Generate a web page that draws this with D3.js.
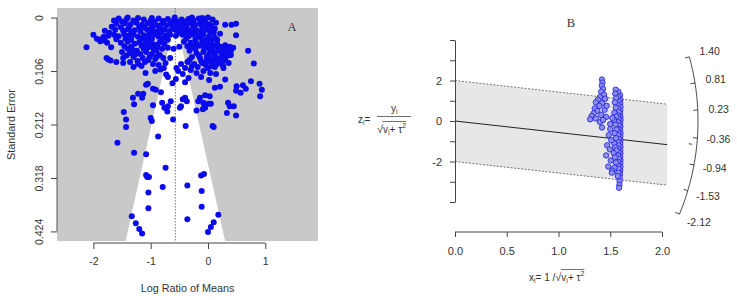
<!DOCTYPE html>
<html><head><meta charset="utf-8">
<script src="https://cdn.jsdelivr.net/npm/d3@7"></script>
<style>body{margin:0;background:#fff} svg{display:block} text{font-family:Arial,"Liberation Sans",sans-serif;fill:#333}</style>
</head><body><svg id="c" width="737" height="300"></svg>
<script>
// ---------- data ----------
const pooledEstimate = -0.57;
const seTicks = [0, 0.106, 0.212, 0.318, 0.424];
const seTickLabels = ["0", "0.106", "0.212", "0.318", "0.424"];
const lrmTicks = [-2, -1, 0, 1];
const lrmTickLabels = ["-2", "-1", "0", "1"];
// Panel A: [log ratio of means, standard error]
const pointsA = [
[-1.56,0.002],[-1.42,0.003],[-1.22,0.001],[-1.12,0.004],[-0.86,0.002],[-0.70,0.003],[-0.46,0.004],[-0.34,0.003],[-0.16,0.002],[0.00,0.000],
[-1.30,0.006],[-1.00,0.006],[-0.60,0.006],[-0.25,0.006],[-0.08,0.005],[-1.50,0.008],[-0.93,0.008],[-0.78,0.007],[-0.52,0.008],[-0.40,0.008],[-0.05,0.009],[-1.64,0.006],
[-1.40,0.000],[-0.98,0.001],[-0.58,0.000],[-0.28,0.000],[-0.10,0.001],[0.08,0.004],[0.12,0.022],[0.16,0.044],[0.14,0.010],
[-1.60,0.012],[-1.45,0.011],[-1.35,0.013],[-1.25,0.010],[-1.15,0.014],[-1.05,0.011],[-0.95,0.013],[-0.88,0.016],[-0.80,0.012],[-0.72,0.015],[-0.65,0.011],[-0.55,0.014],
[-0.48,0.012],[-0.38,0.015],[-0.30,0.011],[-0.22,0.014],[-0.14,0.012],[-0.06,0.016],[0.02,0.013],[0.30,0.014],[0.41,0.014],[0.49,0.012],[0.06,0.016],
[-1.68,0.018],[-1.52,0.019],[-1.38,0.020],[-1.20,0.018],[-1.10,0.020],[-0.98,0.019],[-0.84,0.020],[-0.62,0.019],[-0.50,0.020],[-0.42,0.018],[-0.26,0.020],[-0.10,0.019],[0.03,0.020],
[-1.80,0.026],[-1.62,0.024],[-1.48,0.026],[-1.40,0.023],[-1.28,0.025],[-1.18,0.027],[-1.06,0.024],[-0.96,0.026],[-0.90,0.028],[-0.76,0.024],[-0.68,0.027],[-0.58,0.024],
[-0.46,0.026],[-0.36,0.023],[-0.30,0.028],[-0.20,0.025],[-0.12,0.027],[-0.02,0.024],[0.04,0.028],[-1.72,0.030],[-1.34,0.030],[-1.02,0.031],[-0.82,0.030],[-0.52,0.031],
[-0.40,0.030],[-0.24,0.031],[0.21,0.032],[0.10,0.030],
[-2.00,0.034],[-1.94,0.042],[-1.88,0.047],[-1.82,0.038],[-1.74,0.036],[-1.64,0.034],[-1.56,0.037],[-1.46,0.033],[-1.38,0.036],[-1.30,0.034],[-1.22,0.038],[-1.12,0.035],
[-1.04,0.037],[-0.94,0.034],[-0.86,0.038],[-0.74,0.036],[-0.66,0.034],[-0.56,0.036],[-0.44,0.034],[-0.34,0.037],[-0.26,0.034],[-0.16,0.036],[-0.08,0.033],[0.02,0.037],
[0.49,0.035],[-1.60,0.043],[-1.44,0.042],[-1.34,0.044],[-1.16,0.042],[-1.08,0.044],[-0.98,0.043],[-0.80,0.042],[-0.70,0.044],[-0.38,0.042],[-0.22,0.044],[-0.12,0.041],
[-0.02,0.043],[0.06,0.045],[0.12,0.040],[-1.86,0.043],[-1.80,0.046],
[-1.69,0.059],[-1.76,0.050],[-1.52,0.050],[-1.40,0.048],[-1.28,0.052],[-1.20,0.049],[-1.10,0.052],[-1.00,0.050],[-0.92,0.054],[-0.84,0.049],[-0.76,0.052],[-0.42,0.048],
[-0.30,0.050],[-0.20,0.052],[-0.10,0.049],[-0.04,0.054],[0.04,0.050],[0.10,0.055],[0.16,0.052],[0.22,0.058],[0.30,0.055],[0.38,0.058],[0.44,0.060],[-2.12,0.059],
[-1.46,0.057],[-1.34,0.058],[-1.16,0.056],[-1.04,0.059],[-0.88,0.058],[-0.36,0.057],[-0.26,0.058],[-0.14,0.056],[0.00,0.059],[0.08,0.061],[0.26,0.062],[0.34,0.061],[0.70,0.066],
[-0.70,0.060],[-0.60,0.062],[-0.50,0.058],
[-1.77,0.080],[-1.74,0.083],[-1.70,0.085],[-1.50,0.068],[-1.42,0.075],[-1.36,0.070],[-1.24,0.066],[-1.18,0.072],[-1.08,0.068],[-0.98,0.072],[-0.90,0.066],[-1.30,0.078],
[-1.48,0.080],[-1.14,0.080],[-1.02,0.078],[-0.84,0.074],[-0.32,0.066],[-0.20,0.070],[-0.08,0.068],[0.02,0.072],[0.10,0.068],[0.18,0.066],[0.24,0.072],[0.30,0.070],
[0.36,0.075],[-0.28,0.078],[-0.14,0.080],[-0.02,0.078],[0.06,0.082],[0.14,0.078],[0.20,0.082],[0.40,0.074],[0.80,0.091],[-0.66,0.080],[-1.23,0.086],[-0.94,0.064],
[-0.32,0.084],[-0.22,0.062],[-0.16,0.075],[-0.06,0.062],[0.04,0.064],[0.12,0.074],[0.22,0.088],[0.30,0.084],[0.36,0.090],[0.26,0.095],[-0.28,0.096],[-0.10,0.090],
[0.08,0.096],[0.18,0.060],[0.32,0.064],[-0.02,0.086],[0.14,0.086],[-0.30,0.060],[0.40,0.066],[0.28,0.078],
[-1.32,0.064],[-1.12,0.062],[-0.96,0.060],[-1.40,0.062],[-1.26,0.072],[-1.04,0.084],[-0.92,0.082],[-0.86,0.094],[-1.16,0.096],[-1.30,0.098],[-0.80,0.062],[-0.78,0.080],
[-1.60,0.088],[-1.48,0.090],[-1.36,0.088],[-1.22,0.092],[-1.10,0.088],[-0.96,0.092],[-0.74,0.090],[-0.47,0.092],[-0.36,0.088],[-0.24,0.092],[-0.12,0.086],[-0.04,0.094],
[0.06,0.090],[0.16,0.092],[0.27,0.100],[0.12,0.098],[-0.18,0.098],[-0.55,0.100],[-0.40,0.100],[0.00,0.100],[-0.89,0.077],
[-1.09,0.110],[-0.92,0.106],[-0.83,0.103],[-0.77,0.100],[-0.73,0.113],[-0.52,0.106],[-0.44,0.112],[-0.30,0.104],[-0.20,0.110],[-0.08,0.106],[0.04,0.110],[0.14,0.112],
[0.30,0.123],[-0.70,0.118],[-0.56,0.122],[-0.34,0.120],[-0.12,0.118],[0.02,0.124],[0.75,0.126],[0.90,0.131],[-0.62,0.130],[-0.40,0.128],
[0.94,0.143],[0.91,0.156],[0.50,0.136],[0.61,0.134],[0.66,0.141],[0.49,0.145],[0.57,0.149],[0.35,0.169],[0.45,0.176],[0.33,0.189],[0.49,0.194],[0.21,0.137],[0.12,0.139],
[0.03,0.156],[-0.05,0.154],[-0.14,0.159],[-0.17,0.166],[-0.08,0.169],[0.01,0.171],[0.05,0.171],[-0.05,0.179],[-0.20,0.184],[-0.49,0.179],[-0.61,0.202],
[-1.08,0.133],[-1.05,0.131],[-0.96,0.141],[-0.91,0.143],[-1.22,0.151],[-1.13,0.151],[-1.31,0.159],[-1.15,0.159],[-1.29,0.172],[-0.82,0.148],[-0.70,0.176],[-0.96,0.174],
[-1.47,0.187],[-1.43,0.202],[-1.00,0.199],[-0.98,0.205],[-0.76,0.179],[-0.71,0.186],[-0.80,0.169],[-0.65,0.166],[-0.47,0.176],[-0.44,0.162],[-0.40,0.159],[-0.37,0.166],
[-0.39,0.215],[-1.43,0.217],[-0.87,0.236],[-1.58,0.248],[-0.09,0.182],[-0.07,0.172],[0.08,0.215],[0.10,0.217],[0.38,0.176],
[-1.29,0.268],[-1.08,0.271],[-0.74,0.298],[-1.08,0.312],[-1.03,0.316],[-1.06,0.316],[-0.79,0.336],[-1.04,0.347],[-1.04,0.378],[-1.33,0.394],[-1.26,0.408],[-1.20,0.419],
[-1.15,0.428],[-0.36,0.333],[-0.12,0.313],[-0.07,0.310],[-0.11,0.344],[-0.11,0.375],[-0.36,0.400],[0.18,0.391],[0.10,0.406],[0.05,0.415],[0.00,0.425]
];
// Panel B: radial (Galbraith) plot, [x_i, z_i]
const pointsB = [
[1.595,1.28],[1.598,1.05],[1.596,0.88],[1.599,0.70],[1.597,0.52],[1.594,0.36],[1.598,0.20],[1.599,0.05],[1.596,-0.12],[1.598,-0.28],[1.595,-0.45],[1.599,-0.61],
[1.597,-0.78],[1.598,-0.95],[1.596,-1.10],[1.599,-1.27],[1.597,-1.44],[1.598,-1.60],[1.595,-1.77],[1.599,-1.93],[1.597,-2.10],[1.598,-2.27],[1.596,-2.44],[1.594,-2.62],
[1.592,-2.80],[1.590,-2.98],[1.588,-3.15],[1.585,-3.30],
[1.578,1.45],[1.575,1.20],[1.580,0.98],[1.572,0.80],[1.577,0.62],[1.581,0.44],[1.574,0.27],[1.579,0.10],[1.576,-0.06],[1.582,-0.22],[1.573,-0.38],[1.580,-0.55],
[1.577,-0.70],[1.583,-0.88],[1.575,-1.02],[1.579,-1.20],[1.574,-1.36],[1.581,-1.52],[1.576,-1.70],[1.582,-1.86],[1.578,-2.02],[1.575,-2.20],[1.580,-2.36],[1.577,-2.55],[1.572,-2.72],
[1.552,1.55],[1.548,1.35],[1.556,1.12],[1.545,0.92],[1.553,0.66],[1.540,0.40],[1.558,0.22],[1.536,0.05],[1.550,-0.18],[1.560,-0.42],[1.542,-0.60],[1.555,-0.85],
[1.538,-1.10],[1.548,-1.30],[1.560,-1.45],[1.532,-1.58],[1.545,-1.80],[1.555,-2.05],[1.540,-2.30],[1.520,-2.45],
[1.500,-0.40],[1.485,-0.70],[1.510,-0.95],[1.470,-1.20],[1.495,-1.40],[1.460,-1.70],[1.505,-1.95],[1.480,-2.25],[1.515,-2.55],[1.500,-0.15],[1.520,0.15],
[1.420,2.05],[1.425,1.90],[1.418,1.75],[1.430,1.58],[1.412,1.45],[1.440,1.30],[1.400,1.18],[1.380,1.05],[1.450,1.10],[1.360,0.92],[1.420,0.88],[1.395,0.75],
[1.350,0.62],[1.375,0.50],[1.340,0.38],[1.320,0.25],[1.305,0.08],[1.360,0.12],[1.410,0.30],[1.445,0.55],[1.460,0.20],[1.400,-0.05],[1.420,-0.32],[1.465,0.75],[1.430,0.05]
];
const zTicks = [-4, -3, -2, -1, 0, 1, 2, 3, 4];
const zTickLabels = [-2, 0, 2];
const xTicksB = [0, 0.5, 1, 1.5, 2];
const arcTicks = [1.40, 0.81, 0.23, -0.36, -0.94, -1.53, -2.12];
const bandZ = 2;

// ---------- drawing ----------
const svg = d3.select("#c");

// ===== Panel A =====
const xA = d3.scaleLinear().domain([-2.635, 1.92]).range([57, 318]);
const yA = d3.scaleLinear().domain([-0.019, 0.443]).range([8, 241]);
const [ax0, ax1] = xA.range(), [ay0, ay1] = yA.range();
svg.append("rect").attr("x", ax0).attr("y", ay0).attr("width", ax1 - ax0).attr("height", ay1 - ay0).attr("fill", "#c9c9c9");
const seMax = yA.domain()[1];
const funnel = [[pooledEstimate, 0], [pooledEstimate + 1.96 * seMax, seMax], [pooledEstimate - 1.96 * seMax, seMax]];
svg.append("path").attr("d", d3.line().x(d => xA(d[0])).y(d => yA(d[1]))(funnel) + "Z").attr("fill", "#fff");
svg.append("line").attr("x1", xA(pooledEstimate)).attr("x2", xA(pooledEstimate)).attr("y1", ay0).attr("y2", ay1)
  .attr("stroke", "#555").attr("stroke-width", 0.8).attr("stroke-dasharray", "1.5,1.5");
svg.append("g").selectAll("circle").data(pointsA).join("circle")
  .attr("cx", d => xA(d[0])).attr("cy", d => yA(d[1])).attr("r", 3).attr("fill", "#0a0aec");

// y axis A
const gyA = svg.append("g").attr("transform", `translate(${ax0},0)`)
  .call(d3.axisLeft(yA).tickValues(seTicks).tickSize(6).tickSizeOuter(0).tickFormat((d, i) => seTickLabels[i]));
gyA.select(".domain").remove();
gyA.append("line").attr("y1", yA(seTicks[0])).attr("y2", yA(seTicks[seTicks.length - 1])).attr("stroke", "#555");
gyA.selectAll(".tick line").attr("stroke", "#444");
gyA.selectAll(".tick text").attr("transform", "rotate(-90)").attr("x", 0).attr("y", -14).attr("dy", 0)
  .attr("text-anchor", "middle").attr("font-size", 10.5).attr("fill", "#333").style("font-family", "Arial, 'Liberation Sans', sans-serif");

// x axis A
const gxA = svg.append("g").attr("transform", "translate(0,243)")
  .call(d3.axisBottom(xA).tickValues(lrmTicks).tickSize(6).tickSizeOuter(0).tickFormat((d, i) => lrmTickLabels[i]));
gxA.select(".domain").remove();
gxA.append("line").attr("x1", xA(lrmTicks[0])).attr("x2", xA(lrmTicks[lrmTicks.length - 1])).attr("stroke", "#444");
gxA.selectAll(".tick line").attr("stroke", "#444");
gxA.selectAll(".tick text").attr("y", 15).attr("font-size", 10.5).attr("fill", "#333").style("font-family", "Arial, 'Liberation Sans', sans-serif");

svg.append("text").attr("x", (ax0 + ax1) / 2).attr("y", 292).attr("text-anchor", "middle").attr("font-size", 10.8).text("Log Ratio of Means");
svg.append("text").attr("transform", `translate(15,${(ay0 + ay1) / 2}) rotate(-90)`).attr("text-anchor", "middle").attr("font-size", 10.8).text("Standard Error");
svg.append("text").attr("x", 292).attr("y", 31).attr("text-anchor", "middle").attr("font-size", 12.5)
  .style("font-family", "'Liberation Serif','DejaVu Serif',serif").attr("fill", "#222").text("A");

// ===== Panel B =====
const xB = d3.scaleLinear().domain([0, 2.05]).range([455, 667.2]);
const yB = d3.scaleLinear().domain([-4, 4]).range([202, 40]);
const xMaxB = xB.domain()[1];
const band = [[0, bandZ], [xMaxB, bandZ + pooledEstimate * xMaxB], [xMaxB, -bandZ + pooledEstimate * xMaxB], [0, -bandZ]];
const lineB = d3.line().x(d => xB(d[0])).y(d => yB(d[1]));
svg.append("path").attr("d", lineB(band) + "Z").attr("fill", "#e7e7e7");
svg.append("path").attr("d", lineB([band[0], band[1]])).attr("stroke", "#555").attr("stroke-width", 0.8).attr("stroke-dasharray", "2,1.5").attr("fill", "none");
svg.append("path").attr("d", lineB([band[3], band[2]])).attr("stroke", "#555").attr("stroke-width", 0.8).attr("stroke-dasharray", "2,1.5").attr("fill", "none");
svg.append("path").attr("d", lineB([[0, 0], [xMaxB, pooledEstimate * xMaxB]])).attr("stroke", "#222").attr("stroke-width", 1).attr("fill", "none");

svg.append("g").selectAll("circle").data(pointsB).join("circle")
  .attr("cx", d => xB(d[0])).attr("cy", d => yB(d[1])).attr("r", 2.7)
  .attr("fill", "#8e8ee8").attr("stroke", "#1c1ce0").attr("stroke-width", 0.8);

// y axis B
const gyB = svg.append("g").attr("transform", `translate(${xB(0)},0)`)
  .call(d3.axisLeft(yB).tickValues(zTicks).tickSize(5).tickSizeOuter(0).tickFormat(d => zTickLabels.includes(d) ? d : ""));
gyB.select(".domain").attr("stroke", "#444");
gyB.selectAll(".tick line").attr("stroke", "#444");
gyB.selectAll(".tick text").attr("x", -13).attr("font-size", 11).attr("fill", "#333").style("font-family", "Arial, 'Liberation Sans', sans-serif");

// x axis B
const gxB = svg.append("g").attr("transform", "translate(0,232)")
  .call(d3.axisBottom(xB).tickValues(xTicksB).tickSize(5).tickSizeOuter(0).tickFormat(d3.format(".1f")));
gxB.select(".domain").remove();
gxB.append("line").attr("x1", xB(xTicksB[0])).attr("x2", xB(xTicksB[xTicksB.length - 1])).attr("stroke", "#444");
gxB.selectAll(".tick line").attr("stroke", "#444");
gxB.selectAll(".tick text").attr("y", 15).attr("font-size", 11).attr("fill", "#333").style("font-family", "Arial, 'Liberation Sans', sans-serif");

svg.append("text").attr("x", 571).attr("y", 27).attr("text-anchor", "middle").attr("font-size", 12.5)
  .style("font-family", "'Liberation Serif','DejaVu Serif',serif").attr("fill", "#222").text("B");

// Arc (radial scale)
const R = 243;
const ox = xB(0), oy = yB(0);
function arcPt(theta, r) {
  const dx = xB(1) - xB(0), dy = yB(theta) - yB(0);
  const L = Math.hypot(dx, dy);
  return [ox + dx / L * r, oy + dy / L * r];
}
const thetas = d3.range(0, 61).map(i => arcTicks[0] + (arcTicks[arcTicks.length - 1] - arcTicks[0]) * i / 60);
svg.append("path").attr("d", d3.line()(thetas.map(t => arcPt(t, R)))).attr("fill", "none").attr("stroke", "#333").attr("stroke-width", 0.9);
arcTicks.forEach(t => {
  const p1 = arcPt(t, R), p2 = arcPt(t, R - 4.5), pl = arcPt(t, R + 21);
  svg.append("line").attr("x1", p1[0]).attr("y1", p1[1]).attr("x2", p2[0]).attr("y2", p2[1]).attr("stroke", "#333").attr("stroke-width", 0.9);
  svg.append("text").attr("x", pl[0]).attr("y", pl[1]).attr("dy", "0.35em").attr("text-anchor", "middle").attr("font-size", 10.5).text(t.toFixed(2));
});
const zp = arcPt(-0.5, R - 7);
svg.append("text").attr("transform", `translate(${zp[0]},${zp[1]}) rotate(-90)`).attr("text-anchor", "middle").attr("dy", "0.3em").attr("font-size", 6).text("z");

// math labels
function seq(x, y, items) {
  let cx = x; const boxes = [];
  items.forEach(it => {
    const t = svg.append("text").attr("x", cx).attr("y", y + (it.dy || 0)).attr("font-size", it.size).text(it.t);
    const w = t.node().getComputedTextLength();
    boxes.push([cx, cx + w]);
    cx += w;
  });
  return { end: cx, boxes };
}
// z_i = y_i / sqrt(v_i + tau^2)
seq(358, 123, [{ t: "z", size: 10 }, { t: "i", size: 7, dy: 2 }, { t: " =", size: 10 }]);
seq(391, 112, [{ t: "y", size: 10 }, { t: "i", size: 7, dy: 2 }]);
svg.append("line").attr("x1", 377).attr("x2", 411).attr("y1", 116.5).attr("y2", 116.5).attr("stroke", "#333").attr("stroke-width", 0.7);
const sq1 = seq(377, 133, [{ t: "\u221A", size: 11 }, { t: "v", size: 10 }, { t: "i", size: 7, dy: 2 }, { t: " + \u03C4", size: 10 }, { t: "2", size: 7, dy: -5 }]);
svg.append("line").attr("x1", sq1.boxes[0][1] - 0.5).attr("x2", sq1.end).attr("y1", 121.5).attr("y2", 121.5).attr("stroke", "#333").attr("stroke-width", 0.7);
// x_i = 1 / sqrt(v_i + tau^2)
const sq2 = seq(529, 281, [{ t: "x", size: 10 }, { t: "i", size: 7, dy: 2 }, { t: " = 1 / ", size: 10 }, { t: "\u221A", size: 11 }, { t: "v", size: 10 }, { t: "i", size: 7, dy: 2 }, { t: " + \u03C4", size: 10 }, { t: "2", size: 7, dy: -5 }]);
svg.append("line").attr("x1", sq2.boxes[3][1] - 0.5).attr("x2", sq2.end).attr("y1", 269.5).attr("y2", 269.5).attr("stroke", "#333").attr("stroke-width", 0.7);
</script></body></html>
